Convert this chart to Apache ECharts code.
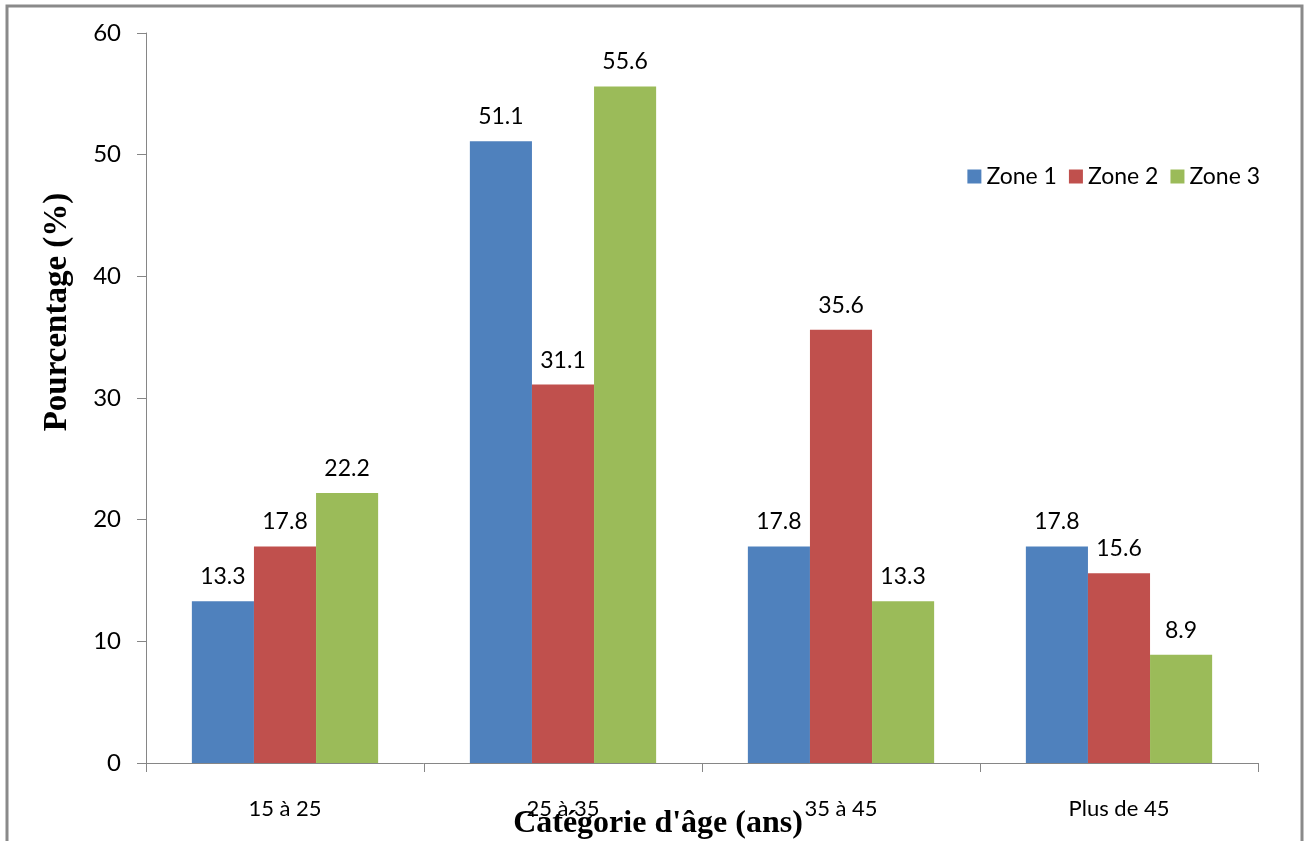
<!DOCTYPE html>
<html><head><meta charset="utf-8">
<script src="https://cdn.jsdelivr.net/npm/echarts@6/dist/echarts.min.js"></script>
<style>html,body{margin:0;padding:0;background:#fff}#c{width:1309px;height:841px}</style>
</head><body><div id="c"></div>
<script>
const categories = ['15 à 25', '25 à 35', '35 à 45', 'Plus de 45'];
const zone1 = [13.3, 51.1, 17.8, 17.8];
const zone2 = [17.8, 31.1, 35.6, 15.6];
const zone3 = [22.2, 55.6, 13.3, 8.9];
const seriesNames = ['Zone 1', 'Zone 2', 'Zone 3'];
const colors = ['#4F81BD', '#C0504D', '#9BBB59'];
const font = 'Lato, "Open Sans", sans-serif';

const chart = echarts.init(document.getElementById('c'));
const mk = (name, data, color) => ({
  name, type: 'bar', data, barGap: '0%', barCategoryGap: '33%',
  itemStyle: { color },
  label: { show: true, position: 'top', distance: 13, color: '#000', fontSize: 23, fontFamily: font, formatter: p => p.value.toFixed(1) }
});
chart.setOption({
  animation: false,
  grid: { left: 146, right: 51, top: 33, bottom: 78 },
  legend: {
    right: 44, top: 160, itemWidth: 14, itemHeight: 14, itemGap: 12,
    icon: 'rect',
    textStyle: { fontSize: 23, fontFamily: font, color: '#000' },
    data: seriesNames
  },
  xAxis: {
    type: 'category', data: categories,
    axisLine: { lineStyle: { color: '#868686', width: 1 } },
    axisTick: { show: true, length: 9, lineStyle: { color: '#868686' } },
    axisLabel: { fontSize: 22, fontFamily: font, color: '#000', margin: 35 }
  },
  yAxis: {
    type: 'value', min: 0, max: 60, interval: 10,
    splitLine: { show: false },
    axisLine: { show: true, lineStyle: { color: '#868686', width: 1 } },
    axisTick: { show: true, length: 9, lineStyle: { color: '#868686' } },
    axisLabel: { fontSize: 24, fontFamily: font, color: '#000', margin: 25 }
  },
  graphic: [
    { type: 'rect', shape: { x: 7, y: 6, width: 1295, height: 845 }, style: { fill: 'none', stroke: '#8a8a8a', lineWidth: 3 }, z: -1 },
    { type: 'text', x: 57, y: 312, rotation: Math.PI / 2,
      style: { text: 'Pourcentage (%)', font: 'bold 33px "Liberation Serif", "Times New Roman", serif', fill: '#000', textAlign: 'center', textVerticalAlign: 'middle' } },
    { type: 'text', x: 658, y: 824,
      style: { text: "Catégorie d'âge (ans)", font: 'bold 32px "Liberation Serif", "Times New Roman", serif', fill: '#000', textAlign: 'center', textVerticalAlign: 'middle' } }
  ],
  series: [mk(seriesNames[0], zone1, colors[0]), mk(seriesNames[1], zone2, colors[1]), mk(seriesNames[2], zone3, colors[2])]
});
</script></body></html>
